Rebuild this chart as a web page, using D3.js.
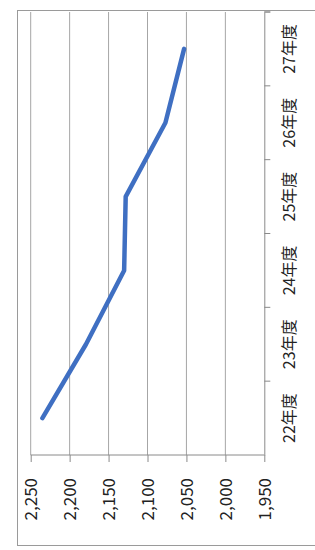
<!DOCTYPE html>
<html>
<head>
<meta charset="utf-8">
<script src="https://cdn.jsdelivr.net/npm/d3@7"></script>
<style>
  body { margin: 0; background: #fff; }
  text { font-family: "Noto Sans CJK JP", "Noto Sans", sans-serif; fill: #222; }
</style>
</head>
<body>
<div id="chart"></div>
<script>
// data
var categories = ["22年度", "23年度", "24年度", "25年度", "26年度", "27年度"];
var values = [2235, 2179, 2130, 2128, 2077, 2053];
var valueTicks = [2250, 2200, 2150, 2100, 2050, 2000, 1950];

// setup (chart is drawn turned a quarter: values run right-to-left, years bottom-to-top)
var width = 315, height = 550;
var plot = { left: 30.7, right: 264.3, top: 12, bottom: 455 };

const svg = d3.select("#chart").append("svg")
    .attr("width", width)
    .attr("height", height);

// outer frame
svg.append("rect")
    .attr("x", 17.5).attr("y", 10.5)
    .attr("width", 320).attr("height", 535)
    .attr("fill", "none")
    .attr("stroke", "#9a9a9a")
    .attr("stroke-width", 1);

const v = d3.scaleLinear()
    .domain([1950, 2250])
    .range([plot.right, plot.left]);

const c = d3.scaleBand()
    .domain(categories)
    .range([plot.bottom, plot.top]);

// gridlines
svg.append("g")
  .selectAll("line")
  .data(valueTicks.filter(d => d !== 1950))
  .enter().append("line")
    .attr("x1", d => v(d)).attr("x2", d => v(d))
    .attr("y1", plot.top).attr("y2", plot.bottom)
    .attr("stroke", "#a6a6a6")
    .attr("stroke-width", 1);

// value axis (bottom)
const valueAxis = d3.axisBottom(v)
    .tickValues(valueTicks)
    .tickFormat(d3.format(","))
    .tickSize(7)
    .tickPadding(0);

const gv = svg.append("g")
    .attr("transform", "translate(0," + plot.bottom + ")")
    .call(valueAxis);
gv.select(".domain").attr("stroke", "#8a8a8a").attr("d", "M" + plot.left + ",0H" + plot.right);
gv.selectAll(".tick line").attr("stroke", "#8a8a8a");
gv.selectAll(".tick text")
    .attr("transform", "translate(0,23) rotate(-90)")
    .attr("x", 0).attr("y", 0)
    .attr("dy", "0.35em")
    .attr("text-anchor", "end")
    .style("font-size", "17px");

// category axis (right)
const catAxis = d3.axisRight(c)
    .tickSize(0)
    .tickPadding(0);

const gc = svg.append("g")
    .attr("transform", "translate(" + plot.right + ",0)")
    .call(catAxis);
gc.select(".domain").attr("stroke", "#8a8a8a");
gc.selectAll(".tick text")
    .attr("transform", "translate(25,0) rotate(-90)")
    .attr("x", 0).attr("y", 0)
    .attr("dy", "0.35em")
    .attr("text-anchor", "middle")
    .style("font-size", "16px");

// boundary tick marks on the category axis
const bounds = categories.map(d => c(d)).concat([plot.top]);
gc.selectAll(".bound")
    .data(bounds)
    .enter().append("line")
    .attr("class", "bound")
    .attr("x1", 0).attr("x2", 6)
    .attr("y1", d => d).attr("y2", d => d)
    .attr("stroke", "#8a8a8a");

// line
svg.append("path")
    .datum(values)
    .attr("fill", "none")
    .attr("stroke", "#3f6fc2")
    .attr("stroke-width", 4.5)
    .attr("stroke-linejoin", "round")
    .attr("stroke-linecap", "round")
    .attr("d", d3.line()
        .x(function(d) { return v(d); })
        .y(function(d, i) { return c(categories[i]) + c.bandwidth() / 2; }));
</script>
</body>
</html>
